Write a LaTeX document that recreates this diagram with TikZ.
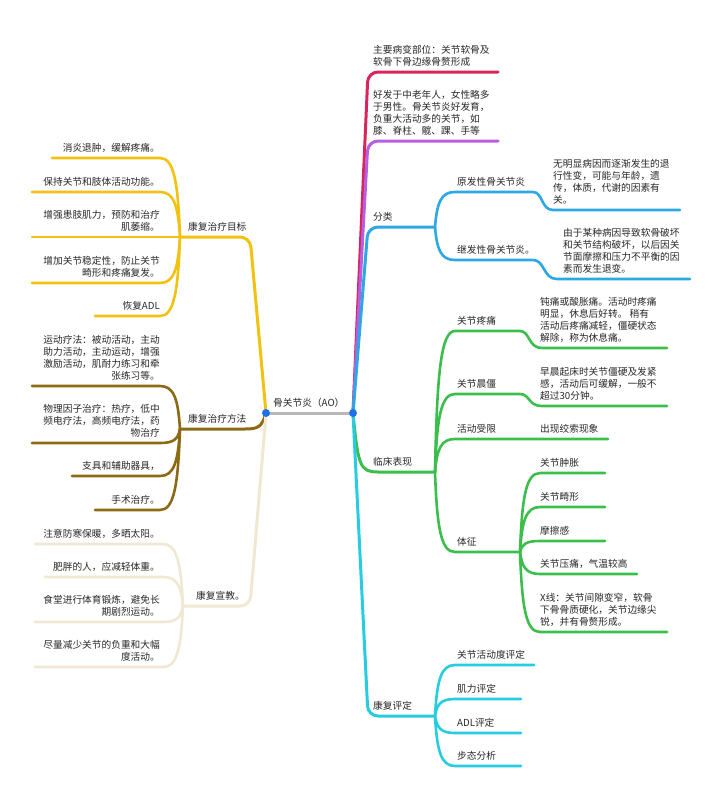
\documentclass[tikz,border=0pt]{standalone}
\usepackage{fontspec}
\setmainfont{Noto Sans CJK SC}
\definecolor{cRed}{RGB}{214,38,92}
\definecolor{cPurple}{RGB}{184,94,226}
\definecolor{cBlue}{RGB}{44,168,228}
\definecolor{cGreen}{RGB}{60,190,76}
\definecolor{cCyan}{RGB}{40,204,224}
\definecolor{cYellow}{RGB}{243,194,16}
\definecolor{cBrown}{RGB}{140,106,20}
\definecolor{cBeige}{RGB}{240,232,210}
\definecolor{cGray}{RGB}{184,184,184}
\definecolor{cDot}{RGB}{30,112,230}
\definecolor{txtc}{RGB}{40,40,40}
\begin{document}
\begin{tikzpicture}[x=1pt,y=-1pt,
  mainline/.style={line width=3pt,line cap=round},
  subline/.style={line width=2.6pt,line cap=round},
  txt/.style={inner sep=0pt,text depth=0pt,font=\fontsize{9.7}{12}\selectfont,text=txtc},
  rt/.style={txt,anchor=south west,align=left},
  lt/.style={txt,anchor=south east,align=right}]
\useasboundingbox (0,0) rectangle (722,800);
\fill[white] (0,0) rectangle (722,800);
\coordinate (L) at (266,413);
\coordinate (R) at (353,413);
% centre
\draw[mainline,cGray,line cap=butt] (L) -- (R);
\node[rt] (root) at (273,407) {骨关节炎（AO）};

% ---------- right side ----------
\coordinate (jRed) at (498,72);
\coordinate (jPur) at (498,141);
\coordinate (jBlue) at (435,227);
\coordinate (jGreen) at (435,472);
\coordinate (jCyan) at (435,716);
\draw[mainline,cRed,rounded corners=10pt] (R) -- (368,72) -- (jRed);
\draw[mainline,cPurple,rounded corners=10pt] (R) -- (368,141) -- (jPur);
\draw[mainline,cBlue,rounded corners=10pt] (R) -- (368,227) -- (jBlue);
\draw[mainline,cGreen] (R) .. controls (358,466) and (360,472) .. (378,472) -- (jGreen);
\draw[mainline,cCyan,rounded corners=10pt] (R) -- (368,716) -- (jCyan);

\node[rt] (n1) at (373,66) {主要病变部位：关节软骨及\\软骨下骨边缘骨赘形成};
\node[rt] (n2) at (373,135) {好发于中老年人，女性略多\\于男性。骨关节炎好发育，\\负重大活动多的关节，如\\膝、脊柱、髋、踝、手等};
\node[rt] (n3) at (373,221) {分类};
\node[rt] (n4) at (373,466) {临床表现};
\node[rt] (n5) at (373,710) {康复评定};

% 分类
\coordinate (e31) at (680,210);
\coordinate (e32) at (690,279);
\draw[subline,cBlue] (jBlue) .. controls (437,202.5) and (441,192) .. (455,192) -- (533,192) .. controls (543,192) and (541,210) .. (553,210) -- (e31);
\draw[subline,cBlue] (jBlue) .. controls (437,250) and (441,260) .. (455,260) -- (533,260) .. controls (545,260) and (543,279) .. (557,279) -- (e32);
\node[rt] (n31) at (457,186) {原发性骨关节炎};
\node[rt] (n31d) at (553,204) {无明显病因而逐渐发生的退\\行性变，可能与年龄，遗\\传，体质，代谢的因素有\\关。};
\node[rt] (n32) at (457,254) {继发性骨关节炎。};
\node[rt] (n32d) at (563,273) {由于某种病因导致软骨破坏\\和关节结构破坏，以后因关\\节面摩擦和压力不平衡的因\\素而发生退变。};

% 临床表现
\coordinate (e41) at (667,348);
\coordinate (e42) at (667,406);
\coordinate (e43) at (608,439);
\coordinate (jTZ) at (520,552);
\draw[subline,cGreen] (jGreen) .. controls (437,373) and (441,331) .. (455,331) -- (520,331) .. controls (530,331) and (528,348) .. (542,348) -- (e41);
\draw[subline,cGreen] (jGreen) .. controls (437,417) and (441,394) .. (455,394) -- (520,394) .. controls (530,394) and (528,406) .. (542,406) -- (e42);
\draw[subline,cGreen] (jGreen) .. controls (437,449) and (441,439) .. (455,439) -- (e43);
\draw[subline,cGreen] (jGreen) .. controls (437,528) and (441,552) .. (455,552) -- (jTZ);
\node[rt] (n41) at (457,325) {关节疼痛};
\node[rt] (n41d) at (540,342) {钝痛或酸胀痛。活动时疼痛\\明显，休息后好转。 稍有\\活动后疼痛减轻，僵硬状态\\解除，称为休息痛。};
\node[rt] (n42) at (457,388) {关节晨僵};
\node[rt] (n42d) at (540,400) {早晨起床时关节僵硬及发紧\\感，活动后可缓解，一般不\\超过30分钟。};
\node[rt] (n43) at (457,433) {活动受限};
\node[rt] (n43d) at (540,433) {出现绞索现象};
\node[rt] (n44) at (457,546) {体征};

\coordinate (e441) at (605,473);
\coordinate (e442) at (605,507);
\coordinate (e443) at (605,541);
\coordinate (e444) at (637,574);
\coordinate (e445) at (667,632);
\draw[subline,cGreen] (jTZ) .. controls (522,497) and (526,473) .. (540,473) -- (e441);
\draw[subline,cGreen] (jTZ) .. controls (522,520.5) and (526,507) .. (540,507) -- (e442);
\draw[subline,cGreen] (jTZ) .. controls (522,544) and (526,541) .. (540,541) -- (e443);
\draw[subline,cGreen] (jTZ) .. controls (522,567) and (526,574) .. (540,574) -- (e444);
\draw[subline,cGreen] (jTZ) .. controls (522,608) and (526,632) .. (540,632) -- (e445);
\node[rt] (n441) at (540,467) {关节肿胀};
\node[rt] (n442) at (540,501) {关节畸形};
\node[rt] (n443) at (540,535) {摩擦感};
\node[rt] (n444) at (540,568) {关节压痛，气温较高};
\node[rt] (n445) at (540,626) {X线：关节间隙变窄，软骨\\下骨骨质硬化，关节边缘尖\\锐，并有骨赘形成。};

% 康复评定
\coordinate (e51) at (534,665);
\coordinate (e52) at (521,699);
\coordinate (e53) at (521,733);
\coordinate (e54) at (521,766);
\draw[subline,cCyan] (jCyan) .. controls (437,680) and (441,665) .. (455,665) -- (e51);
\draw[subline,cCyan] (jCyan) .. controls (437,704) and (441,699) .. (455,699) -- (e52);
\draw[subline,cCyan] (jCyan) .. controls (437,728) and (441,733) .. (455,733) -- (e53);
\draw[subline,cCyan] (jCyan) .. controls (437,751) and (441,766) .. (455,766) -- (e54);
\node[rt] (n51) at (457,659) {关节活动度评定};
\node[rt] (n52) at (457,693) {肌力评定};
\node[rt] (n53) at (457,727) {ADL评定};
\node[rt] (n54) at (457,760) {步态分析};

% ---------- left side ----------
\coordinate (jYel) at (180,237);
\coordinate (jBro) at (180,429);
\coordinate (jBei) at (183,606);
\draw[mainline,cYellow,rounded corners=10pt] (L) -- (250,237) -- (jYel);
\draw[mainline,cBrown] (L) .. controls (262,427) and (258,429) .. (245,429) -- (jBro);
\draw[mainline,cBeige,rounded corners=10pt] (L) -- (250,606) -- (jBei);
\node[rt] (m1) at (188,231) {康复治疗目标};
\node[rt] (m2) at (188,423) {康复治疗方法};
\node[rt] (m3) at (196,600) {康复宣教。};

% 康复治疗目标
\coordinate (f11) at (52,158);
\coordinate (f12) at (32,192);
\coordinate (f13) at (32,237);
\coordinate (f14) at (32,283);
\coordinate (f15) at (95,316);
\draw[subline,cYellow] (jYel) .. controls (178,182) and (174,158) .. (160,158) -- (f11);
\draw[subline,cYellow] (jYel) .. controls (178,205.5) and (174,192) .. (160,192) -- (f12);
\draw[subline,cYellow] (jYel) -- (f13);
\draw[subline,cYellow] (jYel) .. controls (178,269) and (174,283) .. (160,283) -- (f14);
\draw[subline,cYellow] (jYel) .. controls (178,292) and (174,316) .. (160,316) -- (f15);
\node[lt] (m11) at (160,152) {消炎退肿，缓解疼痛。};
\node[lt] (m12) at (160,186) {保持关节和肢体活动功能。};
\node[lt] (m13) at (160,231) {增强患肢肌力，预防和治疗\\肌萎缩。};
\node[lt] (m14) at (160,277) {增加关节稳定性，防止关节\\畸形和疼痛复发。};
\node[lt] (m15) at (160,310) {恢复ADL};

% 康复治疗方法
\coordinate (f21) at (32,386);
\coordinate (f22) at (32,443);
\coordinate (f23) at (72,476);
\coordinate (f24) at (95,510);
\draw[subline,cBrown] (jBro) .. controls (178,399) and (174,386) .. (160,386) -- (f21);
\draw[subline,cBrown] (jBro) .. controls (178,439) and (174,443) .. (160,443) -- (f22);
\draw[subline,cBrown] (jBro) .. controls (178,462) and (174,476) .. (160,476) -- (f23);
\draw[subline,cBrown] (jBro) .. controls (178,486) and (174,510) .. (160,510) -- (f24);
\node[lt] (m21) at (160,380) {运动疗法：被动活动，主动\\助力活动，主动运动，增强\\激励活动，肌耐力练习和牵\\张练习等。};
\node[lt] (m22) at (160,437) {物理因子治疗：热疗，低中\\频电疗法，高频电疗法，药\\物治疗};
\node[lt] (m23) at (160,470) {支具和辅助器具，};
\node[lt] (m24) at (160,504) {手术治疗。};

% 康复宣教
\coordinate (f31) at (35,544);
\coordinate (f32) at (45,577);
\coordinate (f33) at (35,622);
\coordinate (f34) at (35,667);
\draw[subline,cBeige] (jBei) .. controls (181,563) and (177,544) .. (163,544) -- (f31);
\draw[subline,cBeige] (jBei) .. controls (181,586) and (177,577) .. (163,577) -- (f32);
\draw[subline,cBeige] (jBei) .. controls (181,617) and (177,622) .. (163,622) -- (f33);
\draw[subline,cBeige] (jBei) .. controls (181,649) and (177,667) .. (163,667) -- (f34);
\node[lt] (m31) at (160,538) {注意防寒保暖，多晒太阳。};
\node[lt] (m32) at (160,571) {肥胖的人，应减轻体重。};
\node[lt] (m33) at (160,616) {食堂进行体育锻炼，避免长\\期剧烈运动。};
\node[lt] (m34) at (160,661) {尽量减少关节的负重和大幅\\度活动。};

% dots
\fill[cDot] (L) circle (4pt);
\fill[cDot] (R) circle (4pt);
\end{tikzpicture}
\end{document}
